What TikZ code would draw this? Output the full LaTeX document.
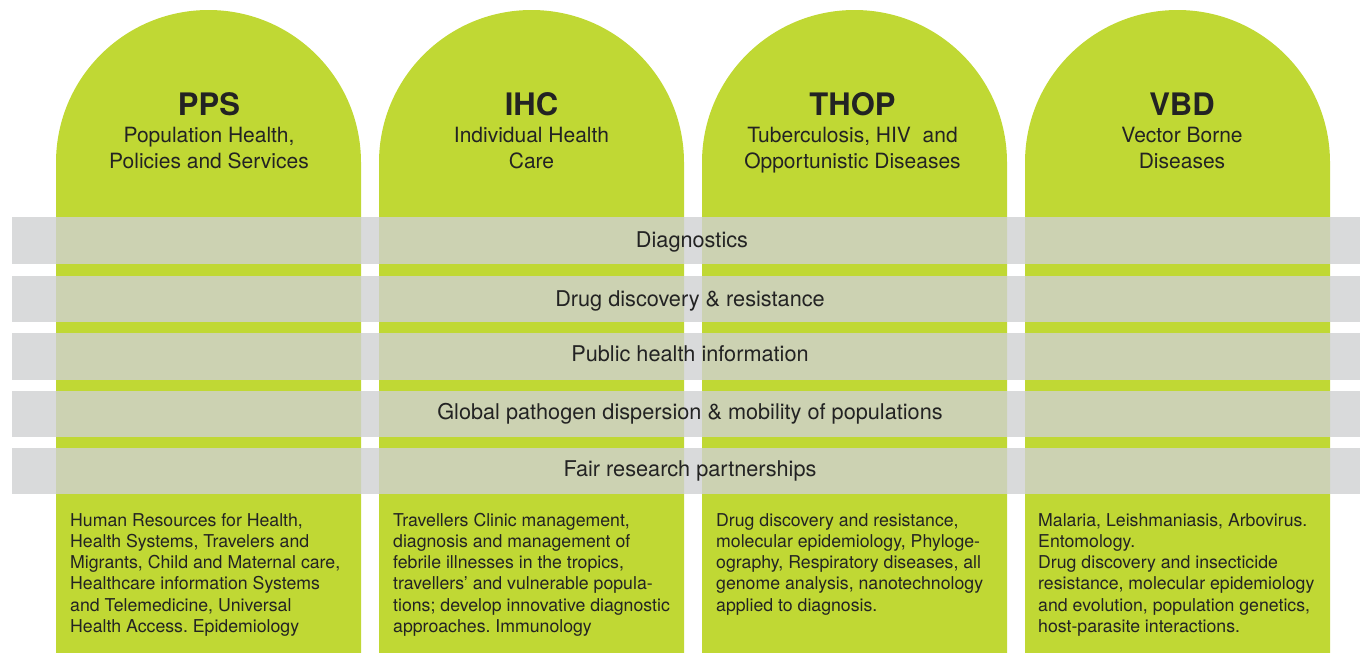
\documentclass[tikz,border=0pt]{standalone}
\usepackage{fontspec}
\setmainfont{TeX Gyre Heros}
\usetikzlibrary{positioning}
\frenchspacing
\definecolor{lime}{RGB}{192,216,52}
\definecolor{bandgrey}{RGB}{208,209,210}
\definecolor{inkgrey}{RGB}{35,35,35}
\tikzset{
  pillar/.style={fill=lime},
  band/.style={fill=bandgrey,fill opacity=0.8},
  ttl/.style={anchor=base,inner sep=0pt,text=inkgrey,font=\fontsize{31}{33}\selectfont\bfseries},
  sub/.style={anchor=base,inner sep=0pt,text=inkgrey,align=center,font=\fontsize{21}{26}\selectfont},
  bandlab/.style={anchor=base,inner sep=0pt,text=inkgrey,font=\fontsize{21.7}{24}\selectfont},
  body/.style={anchor=base west,inner sep=0pt,text=inkgrey,align=left,font=\fontsize{17.7}{21.3}\selectfont}
}
\begin{document}
\begin{tikzpicture}[x=1pt,y=-1pt]
  \useasboundingbox (0,0) rectangle (1360,653);
  % pillars
  \fill[pillar] (56,653) -- (56,162.5) arc[start angle=180,end angle=360,radius=152.5] -- (361,653) -- cycle;
  \fill[pillar] (379,653) -- (379,162.5) arc[start angle=180,end angle=360,radius=152.5] -- (684,653) -- cycle;
  \fill[pillar] (702,653) -- (702,162.5) arc[start angle=180,end angle=360,radius=152.5] -- (1007,653) -- cycle;
  \fill[pillar] (1025,653) -- (1025,162.5) arc[start angle=180,end angle=360,radius=152.5] -- (1330,653) -- cycle;
  % headings (base = last line)
  \node[ttl] (pps) at (209,115) {PPS};
  \node[sub] (ppssub) at (209,168) {Population Health,\\Policies and Services};
  \node[ttl] (ihc) at (531.5,115) {IHC};
  \node[sub] (ihcsub) at (531.5,168) {Individual Health\\Care};
  \node[ttl] (thop) at (852.5,115) {THOP};
  \node[sub] (thopsub) at (852.5,168) {Tuberculosis, HIV\ \ and\\Opportunistic Diseases};
  \node[ttl] (vbd) at (1182,115) {VBD};
  \node[sub] (vbdsub) at (1182,168) {Vector Borne\\Diseases};
  % cross-cutting bands
  \fill[band] (12,217) rectangle (1360,264);
  \fill[band] (12,275.5) rectangle (1360,322);
  \fill[band] (12,333) rectangle (1360,379.5);
  \fill[band] (12,390.5) rectangle (1360,437);
  \fill[band] (12,447.5) rectangle (1360,494);
  \node[bandlab] (diag) at (692,247) {Diagnostics};
  \node[bandlab] (drug) at (690,306) {Drug discovery \& resistance};
  \node[bandlab] (info) at (690,361) {Public health information};
  \node[bandlab] (glob) at (690,419) {Global pathogen dispersion \& mobility of populations};
  \node[bandlab] (fair) at (690,476) {Fair research partnerships};
  % topics
  \node[body] (ppstxt) at (70,632.5) {Human Resources for Health,\\Health Systems, Travelers and\\Migrants, Child and Maternal care,\\Healthcare information Systems\\and Telemedicine, Universal\\Health Access. Epidemiology};
  \node[body] (ihctxt) at (393,632.5) {Travellers Clinic management,\\diagnosis and management of\\febrile illnesses in the tropics,\\travellers’ and vulnerable popula-\\tions; develop innovative diagnostic\\approaches. Immunology};
  \node[body] (thoptxt) at (716,611.2) {Drug discovery and resistance,\\molecular epidemiology, Phyloge-\\ography, Respiratory diseases, all\\genome analysis, nanotechnology\\applied to diagnosis.};
  \node[body] (vbdtxt) at (1038,632.5) {Malaria, Leishmaniasis, Arbovirus.\\Entomology.\\Drug discovery and insecticide\\resistance, molecular epidemiology\\and evolution, population genetics,\\host-parasite interactions.};
\end{tikzpicture}
\end{document}
